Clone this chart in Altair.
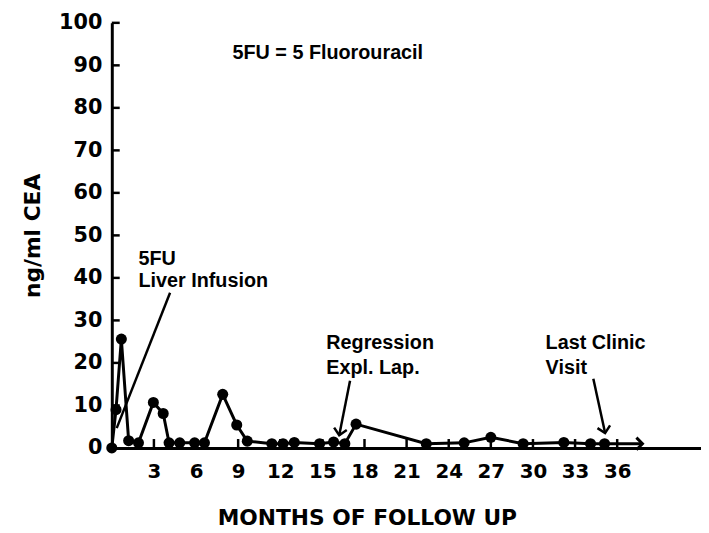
import altair as alt
import pandas as pd

# ---- data ----
months = [0, 0.3, 0.68, 1.2, 1.9, 2.96, 3.66, 4.08, 4.84, 5.9, 6.6, 7.9, 8.9, 9.65,
          11.4, 12.2, 13.0, 14.8, 15.8, 16.6, 17.4, 22.4, 25.1, 27.0, 29.3, 32.2, 34.1, 35.1]
cea = [0, 9, 25.6, 1.7, 1.2, 10.7, 8.1, 1.2, 1.2, 1.2, 1.2, 12.6, 5.4, 1.6,
       1.0, 1.0, 1.3, 1.0, 1.4, 1.0, 5.6, 1.0, 1.2, 2.5, 1.0, 1.3, 1.0, 1.0]
arrow_end_month = 37.8
arrow_end_cea = 1.0

x_ticks = [3, 6, 9, 12, 15, 18, 21, 24, 27, 30, 33, 36]
y_ticks = [0, 10, 20, 30, 40, 50, 60, 70, 80, 90, 100]

note_text = ["5FU = 5 Fluorouracil", "5FU", "Liver Infusion", "Regression", "Expl. Lap.",
             "Last Clinic", "Visit"]
note_month = [8.6, 1.9, 1.9, 15.28, 15.28, 30.9, 30.9]
note_cea = [91.4, 43.0, 37.9, 23.3, 17.4, 23.3, 17.4]

# annotation pointer lines (start -> tip)
ptr_month = [4.15, 16.97, 34.3]
ptr_cea = [36.5, 15.8, 16.3]
ptr_month2 = [0.35, 16.2, 35.14]
ptr_cea2 = [4.65, 3.0, 3.5]
ptr_head = [False, True, True]
ptr_angle = [0, 101, 78]

# ---- tables ----
series = pd.DataFrame({"month": months, "cea": cea})
tail = pd.DataFrame({"month": [months[-1]], "cea": [cea[-1]],
                     "month2": [arrow_end_month], "cea2": [arrow_end_cea]})
tail_head = pd.DataFrame({"month": [arrow_end_month], "cea": [arrow_end_cea], "ang": [0]})
notes = pd.DataFrame({"month": note_month, "cea": note_cea, "label": note_text})
ptrs = pd.DataFrame({"month": ptr_month, "cea": ptr_cea, "month2": ptr_month2, "cea2": ptr_cea2})
heads = pd.DataFrame({"month": ptr_month2, "cea": ptr_cea2, "ang": ptr_angle, "h": ptr_head})
heads = heads[heads["h"]]
xt = pd.DataFrame({"month": x_ticks})
yt = pd.DataFrame({"cea": y_ticks[1:]})

xs = alt.Scale(domain=[0, 41.97], nice=False, zero=False)
ys = alt.Scale(domain=[0, 100], nice=False)

xaxis = alt.Axis(values=x_ticks, title="MONTHS OF FOLLOW UP", ticks=False, grid=False,
                 labelFont="DejaVu Sans", labelFontWeight="bold", labelFontSize=20,
                 labelColor="black", labelPadding=14, labelFlush=False,
                 domainColor="black", domainWidth=3,
                 titleFont="DejaVu Sans", titleFontWeight="bold", titleFontSize=22,
                 titleColor="black", titleX=258, titleY=60)
yaxis = alt.Axis(values=y_ticks, title="ng/ml CEA", ticks=False, grid=False,
                 labelFont="DejaVu Sans", labelFontWeight="bold", labelFontSize=21,
                 labelColor="black", labelPadding=10, labelFlush=False,
                 domainColor="black", domainWidth=3,
                 titleFont="DejaVu Sans", titleFontWeight="bold", titleFontSize=22,
                 titleColor="black", titlePadding=14)

X = alt.X("month:Q", scale=xs, axis=xaxis)
Y = alt.Y("cea:Q", scale=ys, axis=yaxis)

line = alt.Chart(series).mark_line(color="black", strokeWidth=3).encode(x=X, y=Y)
pts = alt.Chart(series).mark_circle(color="black", size=125, opacity=1).encode(x=X, y=Y)
tail_line = alt.Chart(tail).mark_rule(color="black", strokeWidth=3).encode(
    x=X, y=Y, x2="month2:Q", y2="cea2:Q")
tail_arrow = alt.Chart(tail_head).mark_point(
    shape="M-1,-1L0,0L-1,1", filled=False, color="black", strokeWidth=3, size=150,
    opacity=1).encode(x=X, y=Y, angle=alt.Angle("ang:Q", scale=None))

ptr_lines = alt.Chart(ptrs).mark_rule(color="black", strokeWidth=2.5).encode(
    x=X, y=Y, x2="month2:Q", y2="cea2:Q")
ptr_heads = alt.Chart(heads).mark_point(
    shape="M-1,-1L0,0L-1,1", filled=False, color="black", strokeWidth=2.5, size=170,
    opacity=1).encode(x=X, y=Y, angle=alt.Angle("ang:Q", scale=None))

text = alt.Chart(notes).mark_text(
    align="left", baseline="alphabetic", font="Liberation Sans", fontWeight="bold",
    fontSize=20, color="black").encode(x=X, y=Y, text="label:N")

xtick = alt.Chart(xt).mark_rule(color="black", strokeWidth=2.5).encode(
    x=X, y=alt.value(430), y2=alt.value(421))
ytick = alt.Chart(yt).mark_rule(color="black", strokeWidth=2.5).encode(
    y=Y, x=alt.value(0), x2=alt.value(8))

chart = alt.layer(xtick, ytick, ptr_lines, ptr_heads, tail_line, tail_arrow, line, pts, text).properties(
    width=596, height=430,
    autosize=alt.AutoSizeParams(type="none"),
    padding={"left": 105, "top": 12, "right": 0, "bottom": 80},
    background="white",
).configure_view(stroke=None)

chart.save("out.html", embed_options={"renderer": "svg", "actions": False})
